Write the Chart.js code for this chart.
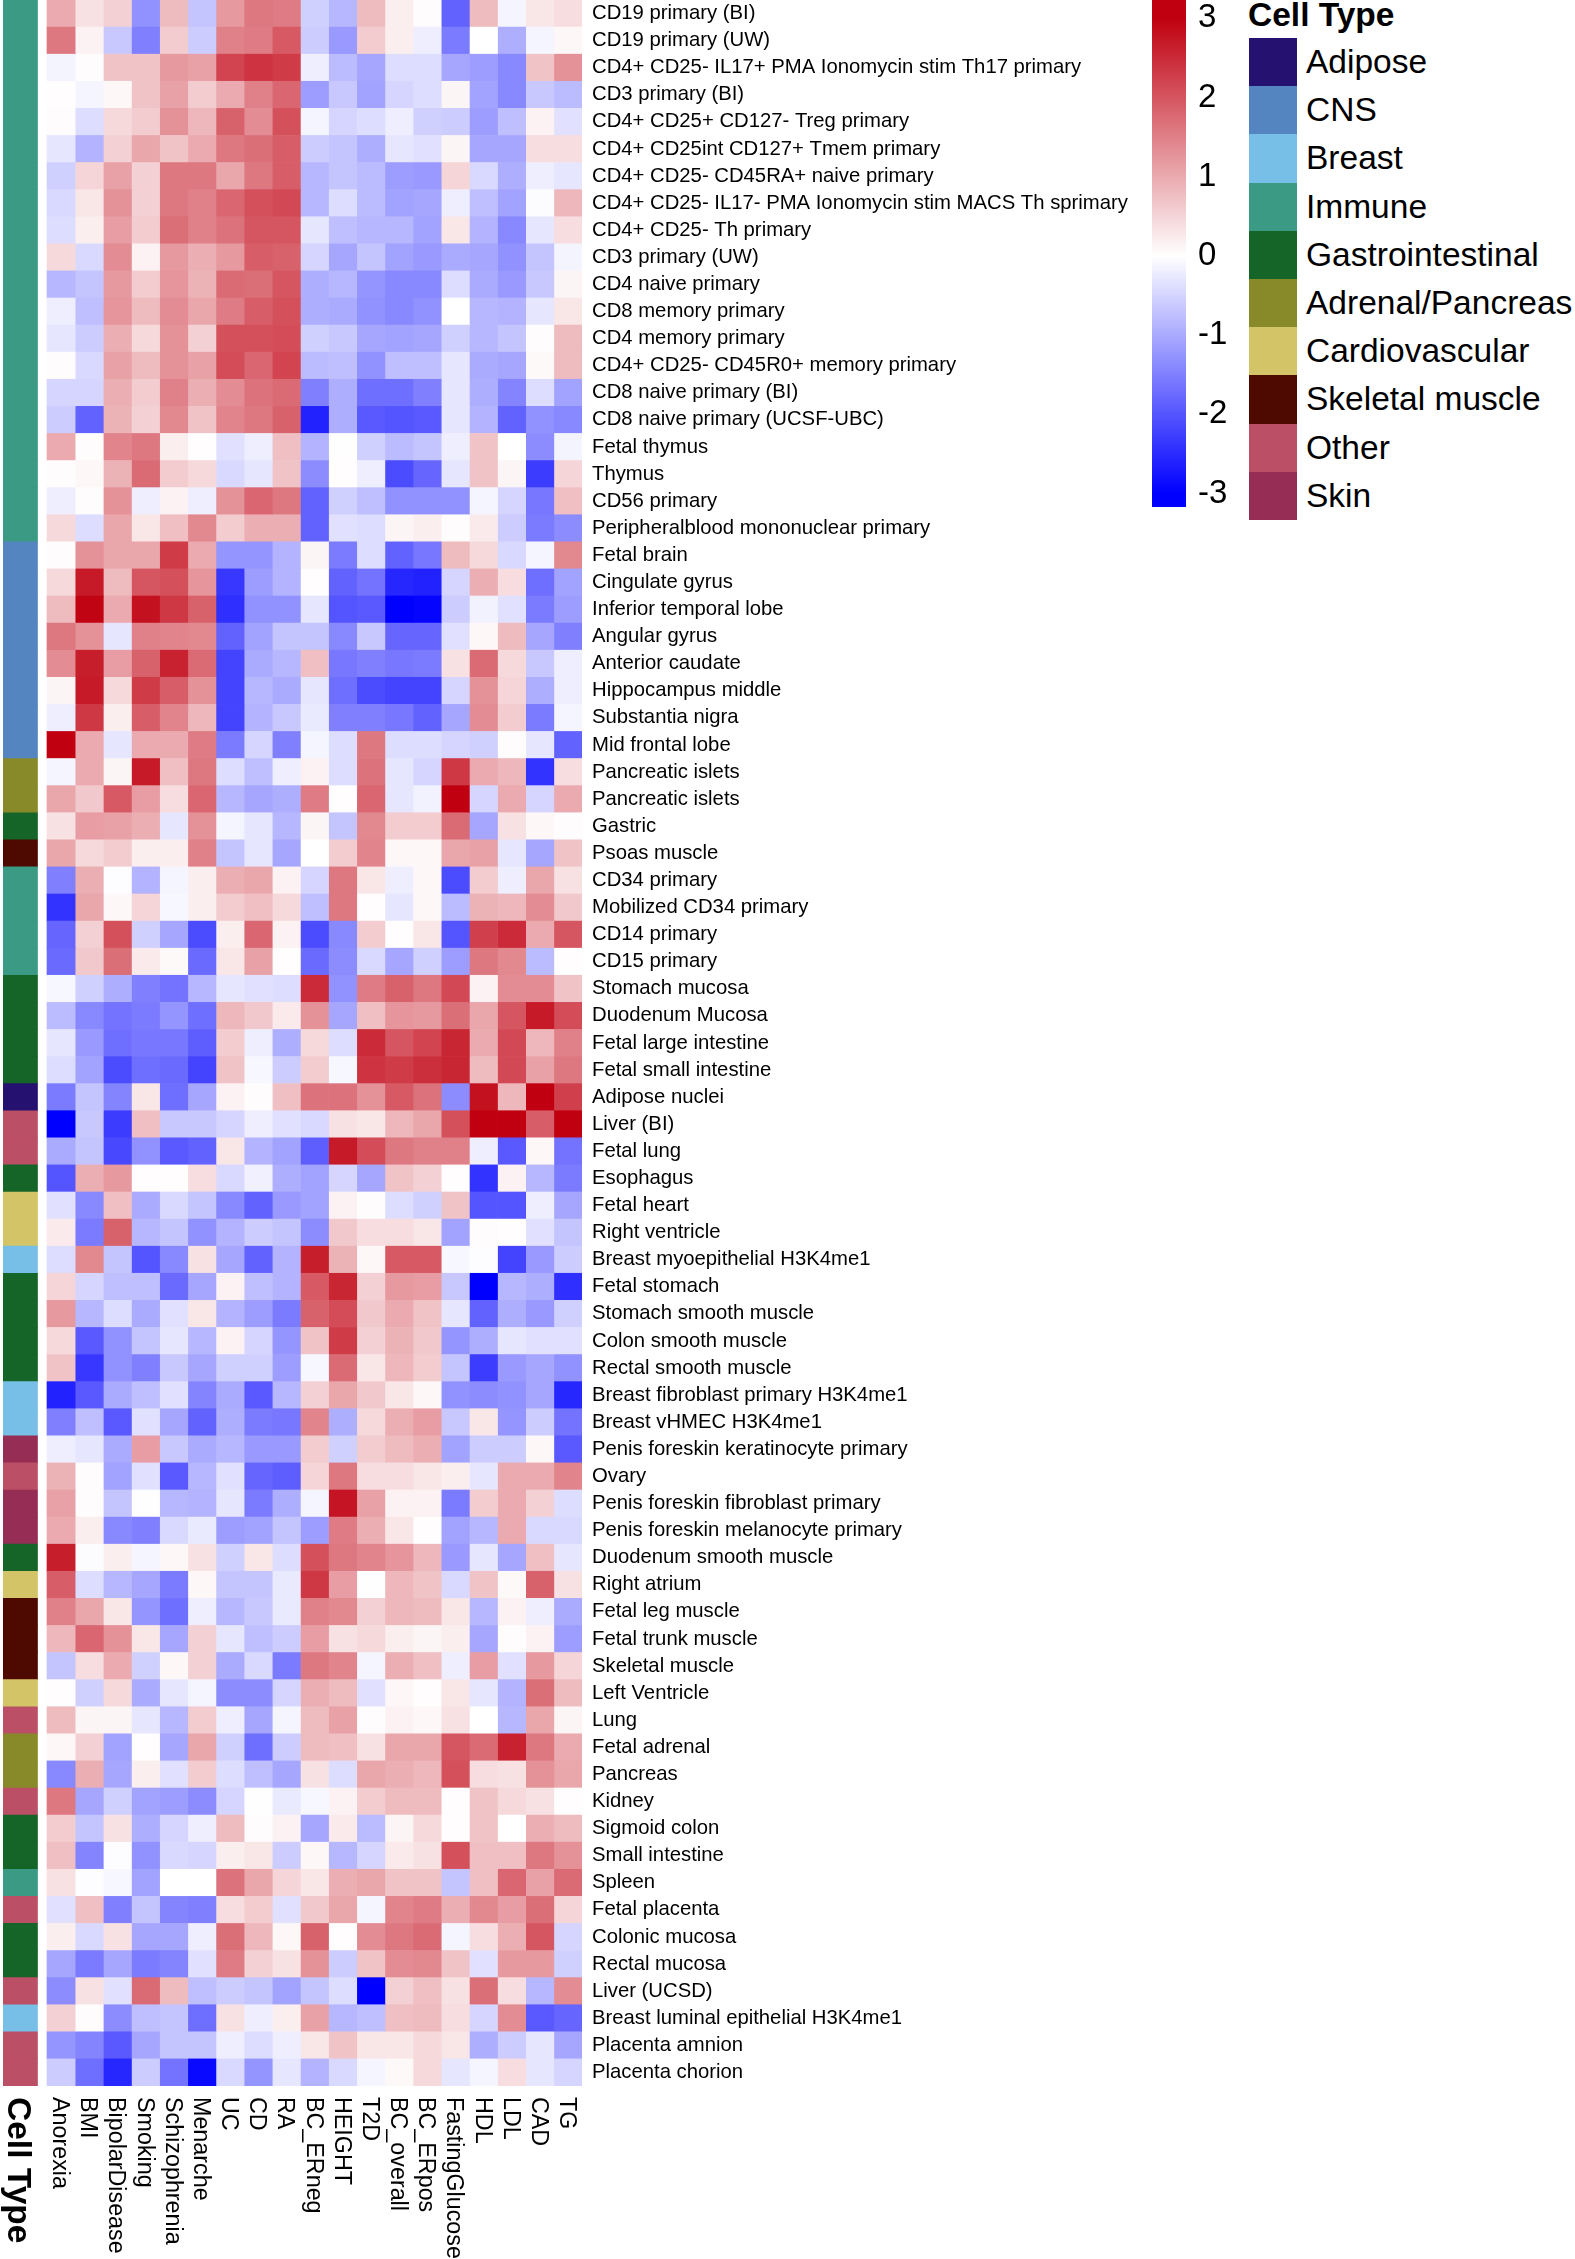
<!DOCTYPE html>
<html>
<head>
<meta charset="utf-8">
<title>Cell type heatmap</title>
<script src="https://cdn.jsdelivr.net/npm/chart.js@4"></script>
<style>
  body { margin: 0; background: #fff; font-family: "Liberation Sans", Arial, sans-serif; }
  #wrap { position: relative; width: 1575px; height: 2259px; overflow: hidden; }
  canvas { position: absolute; }
  .legendTitle { position: absolute; left: 1248px; top: -3px; font-size: 33.5px; font-weight: bold; color: #000; line-height: 36px; }
  .swatch { position: absolute; left: 1249px; width: 48px; }
  .swatchLabel { position: absolute; left: 1306px; font-size: 33.5px; color: #000; white-space: nowrap; }
</style>
</head>
<body>
<div id="wrap">
  <canvas id="heatmap" width="1130" height="2259" style="left:0;top:0"></canvas>
  <canvas id="colorbar" width="90" height="507" style="left:1152px;top:0"></canvas>
  <div id="legend"></div>
</div>
<script>
const colLabels = ['Anorexia','BMI','BipolarDisease','Smoking','Schizophrenia','Menarche','UC','CD','RA','BC_ERneg','HEIGHT','T2D','BC_overall','BC_ERpos','FastingGlucose','HDL','LDL','CAD','TG'];

const rowLabels = [
  'CD19 primary (BI)','CD19 primary (UW)','CD4+ CD25- IL17+ PMA Ionomycin stim Th17 primary','CD3 primary (BI)',
  'CD4+ CD25+ CD127- Treg primary','CD4+ CD25int CD127+ Tmem primary','CD4+ CD25- CD45RA+ naive primary',
  'CD4+ CD25- IL17- PMA Ionomycin stim MACS Th sprimary','CD4+ CD25- Th primary','CD3 primary (UW)','CD4 naive primary',
  'CD8 memory primary','CD4 memory primary','CD4+ CD25- CD45R0+ memory primary','CD8 naive primary (BI)',
  'CD8 naive primary (UCSF-UBC)','Fetal thymus','Thymus','CD56 primary','Peripheralblood mononuclear primary',
  'Fetal brain','Cingulate gyrus','Inferior temporal lobe','Angular gyrus','Anterior caudate','Hippocampus middle',
  'Substantia nigra','Mid frontal lobe','Pancreatic islets','Pancreatic islets','Gastric','Psoas muscle','CD34 primary',
  'Mobilized CD34 primary','CD14 primary','CD15 primary','Stomach mucosa','Duodenum Mucosa','Fetal large intestine',
  'Fetal small intestine','Adipose nuclei','Liver (BI)','Fetal lung','Esophagus','Fetal heart','Right ventricle',
  'Breast myoepithelial H3K4me1','Fetal stomach','Stomach smooth muscle','Colon smooth muscle','Rectal smooth muscle',
  'Breast fibroblast primary H3K4me1','Breast vHMEC H3K4me1','Penis foreskin keratinocyte primary','Ovary',
  'Penis foreskin fibroblast primary','Penis foreskin melanocyte primary','Duodenum smooth muscle','Right atrium',
  'Fetal leg muscle','Fetal trunk muscle','Skeletal muscle','Left Ventricle','Lung','Fetal adrenal','Pancreas','Kidney',
  'Sigmoid colon','Small intestine','Spleen','Fetal placenta','Colonic mucosa','Rectal mucosa','Liver (UCSD)',
  'Breast luminal epithelial H3K4me1','Placenta amnion','Placenta chorion'
];

const typeNames = ['Adipose','CNS','Breast','Immune','Gastrointestinal','Adrenal/Pancreas','Cardiovascular','Skeletal muscle','Other','Skin'];
const typeColors = ['#251170','#5585c0','#78bfe8','#3a9a84','#156428','#888a2a','#d4c468','#4f0a00','#bb4f65','#962d55'];

// index into typeNames for every row, top to bottom
const rowTypes = [
  3,3,3,3,3,3,3,3,3,3,3,3,3,3,3,3,3,3,3,3,
  1,1,1,1,1,1,1,1,
  5,5,4,7,3,3,3,3,4,4,4,4,0,8,8,4,6,6,2,4,4,4,4,2,2,9,8,9,9,4,6,7,7,7,6,8,5,5,8,4,4,3,8,4,4,8,2,8,8
];

// enrichment per row, columns in colLabels order
const values = [
  [1.0,.35,.55,-1.3,.8,-.7,1.2,1.6,1.55,-.55,-.85,.8,.2,.03,-1.85,.8,-.12,.3,.4],
  [1.6,.15,-.65,-1.5,.6,-.6,1.5,1.55,1.95,-.6,-1.2,.6,.2,-.2,-1.55,0,-.95,-.12,.1],
  [-.13,.03,.7,.7,1.2,1.1,2.2,2.4,2.3,-.2,-.8,-1.05,-.4,-.4,-1.05,-1.15,-1.4,.7,1.3],
  [.02,-.12,.1,.7,1.1,.6,1.0,1.5,1.8,-1.15,-.65,-1.1,-.5,-.4,.12,-1.1,-1.4,-.65,-.8],
  [.03,-.4,.45,.6,1.3,.85,1.85,1.35,2.05,-.12,-.5,-.4,-.2,-.55,-.6,-1.15,-.75,.15,-.35],
  [-.3,-.9,.55,1.05,.7,1.0,1.6,1.7,1.9,-.6,-.7,-.95,-.3,-.35,.12,-1.05,-1.05,.4,.4],
  [-.55,.5,1.1,.55,1.6,1.6,1.05,1.6,1.9,-.85,-.7,-.8,-1.15,-1.2,.5,-.45,-.95,-.2,-.3],
  [-.45,.3,1.3,.55,1.6,1.5,1.8,2.05,2.15,-.85,-.4,-.8,-1.1,-1.05,-.2,-.75,-1.1,-.03,.85],
  [-.4,.2,1.15,.6,1.7,1.5,1.65,2.0,2.0,-.3,-.75,-.85,-.85,-1.1,.3,-.9,-1.4,-.3,.4],
  [.45,-.45,1.35,.15,1.2,.95,1.2,1.9,1.85,-.5,-1.05,-.7,-1.1,-1.2,-1.0,-1.05,-1.3,-.7,-.13],
  [-.85,-.7,1.2,.6,1.25,.9,1.75,1.7,2.0,-.95,-.85,-1.25,-1.4,-1.4,-.4,-1.0,-1.2,-.65,.12],
  [-.2,-.75,1.25,.8,1.35,1.05,1.55,1.9,2.05,-.95,-1.0,-1.3,-1.4,-1.3,0,-.85,-.9,-.3,.3],
  [-.3,-.6,.95,.45,1.3,.55,2.05,2.05,2.1,-.55,-.65,-1.05,-1.1,-1.05,-.55,-.85,-.7,.03,.8],
  [.03,-.45,1.1,.8,1.3,1.1,2.1,1.8,2.2,-.8,-.75,-1.3,-.75,-.75,-.3,-1.0,-1.05,.07,.8],
  [-.5,-.5,.95,.6,1.5,.95,1.35,1.65,1.75,-1.5,-.95,-1.7,-1.7,-1.5,-.3,-.95,-1.45,-.4,-1.1],
  [-.6,-1.85,.9,.55,1.4,.7,1.45,1.6,1.85,-2.6,-.95,-1.95,-2.0,-1.95,-.3,-.9,-1.85,-1.3,-1.4],
  [1.0,.03,1.45,1.6,.2,.02,-.35,-.2,.75,-.9,.01,-.55,-.8,-.7,-.2,.7,0,-1.35,-.13],
  [.03,.1,.9,1.75,.6,.45,-.45,-.3,.7,-1.35,.02,-.2,-2.1,-1.8,-.3,.7,.12,-2.3,.5],
  [-.2,.03,1.3,-.2,.15,-.2,1.3,1.8,1.6,-1.85,-.55,-.75,-1.3,-1.3,-1.3,-.12,-.5,-1.6,.75],
  [.45,-.4,1.05,.3,.75,1.4,.6,.95,.95,-1.85,-.35,-.4,.12,.2,.03,.25,-.6,-1.55,-1.35],
  [.03,1.3,1.05,1.05,2.3,1.0,-1.25,-1.25,-.9,.12,-1.55,-.4,-1.85,-1.6,.8,.45,-.45,-.12,1.4],
  [.45,2.7,.8,2.0,2.05,1.25,-2.35,-1.15,-.9,.02,-1.85,-1.65,-2.55,-2.6,-.5,.95,.4,-1.7,-1.1],
  [.8,2.95,1.0,2.8,2.35,1.85,-2.45,-1.3,-1.3,-.3,-2.0,-1.95,-3.0,-2.95,-.6,-.15,-.35,-1.55,-1.15],
  [1.6,1.3,-.3,1.5,1.45,1.4,-1.85,-1.1,-.7,-.7,-1.4,-.65,-1.8,-1.8,-.35,.1,.8,-1.05,-1.5],
  [1.35,2.65,1.15,1.85,2.6,1.75,-2.2,-1.0,-.85,.75,-1.6,-1.5,-1.6,-1.55,.35,1.75,.45,-.65,-.2],
  [.12,2.7,.45,2.3,1.9,1.3,-2.2,-.85,-1.0,-.3,-1.7,-2.1,-2.2,-2.2,-.5,1.3,.5,-.95,-.2],
  [-.2,2.35,.2,1.9,1.45,.85,-2.2,-.9,-.65,-.25,-1.5,-1.5,-1.6,-1.85,-1.05,1.35,.6,-1.55,-.12],
  [3.0,1.0,-.3,1.0,1.0,1.55,-1.55,-.5,-1.5,-.12,-.4,1.6,-.4,-.4,-.5,-.55,.03,-.3,-1.85],
  [-.12,1.0,.12,2.7,.75,1.6,-.4,-.75,-.2,.15,-.4,1.65,-.3,-.5,2.35,1.0,.85,-2.4,.4],
  [1.05,.65,1.95,1.15,.4,1.8,-.85,-1.05,-.95,1.55,.02,1.8,-.3,-.15,3.0,-.5,1.0,-.5,1.0],
  [.35,1.15,1.1,.95,-.3,1.3,-.12,-.3,-.85,.12,-.7,1.4,.6,.6,1.75,-1.05,.35,.1,.03],
  [1.05,.45,.6,.2,.2,1.5,-.7,-.3,-1.05,0,.6,1.45,.1,.1,1.05,1.1,-.3,-1.05,.7],
  [-1.5,.95,-.02,-.9,-.12,.2,.95,1.05,.15,-.5,1.6,.3,-.2,.1,-2.1,.6,-.2,1.05,.35],
  [-2.4,1.05,.1,.5,-.1,.2,.6,.75,.45,-.75,1.6,.02,-.3,.1,-.8,.9,.85,1.35,.65],
  [-1.8,.55,2.05,-.55,-1.05,-2.1,.2,1.8,.15,-2.1,-1.4,.6,.02,.3,-2.0,2.25,2.5,1.0,2.0],
  [-1.75,.65,1.7,.25,.07,-1.75,.3,1.1,.02,-1.75,-1.35,-.45,-1.05,-.55,-1.15,1.6,1.4,-.8,.02],
  [-.1,-.55,-.95,-1.5,-1.65,-.85,-.3,-.35,-.4,2.5,-1.3,1.55,1.85,1.6,2.15,.15,1.35,1.35,.7],
  [-.8,-1.4,-1.65,-1.55,-1.25,-1.7,.85,.65,.25,1.3,-1.05,.75,1.25,1.2,1.7,1.05,2.0,2.7,2.1],
  [-.3,-1.2,-1.7,-1.6,-1.6,-1.9,.6,-.2,-.95,.45,-.4,2.5,2.0,2.2,2.55,1.0,2.15,.85,1.5],
  [-.4,-1.1,-2.1,-1.7,-1.75,-2.2,.7,-.1,-.6,.6,-.1,2.4,2.3,2.45,2.55,.8,2.15,1.1,1.6],
  [-1.55,-.7,-1.45,.3,-1.7,-1.05,.15,.03,.75,1.65,1.65,1.3,1.95,1.65,-1.35,2.8,.85,3.0,2.25],
  [-3.0,-.65,-2.3,.75,-.65,-.65,-.5,-.2,-.35,-.45,.35,.3,.85,1.05,2.05,3,3,1.9,3],
  [-1.0,-.7,-2.15,-1.3,-1.95,-1.85,.3,-.9,-1.1,-1.9,2.7,2.1,1.6,1.5,1.5,-.2,-1.95,.1,-1.65],
  [-2.0,.95,1.2,.02,.02,.4,-.45,-.18,-.95,-1.1,-.5,-1.05,.7,.55,.02,-2.4,.15,-.85,-1.55],
  [-.35,-1.4,.75,-1.0,-.45,-.7,-1.4,-1.85,-1.2,-1.1,.15,.03,-.4,-.55,.7,-2.0,-2.0,-.2,-1.05],
  [.25,-1.55,1.85,-.85,-.7,-1.3,-.9,-.6,-.7,-1.35,.65,.4,.4,.3,-1.1,.03,.02,-.35,-.7],
  [-.4,1.4,-.7,-2.0,-1.4,.35,-1.05,-1.85,-.9,2.65,.9,.1,1.95,1.95,-.1,-.02,-2.2,-1.2,-.6],
  [.5,-.5,-.75,-.75,-1.75,-1.05,.15,-.75,-.9,1.95,2.55,.55,1.2,1.15,-.65,-3.0,-.85,-.95,-2.45],
  [1.2,-.85,-.4,-1.0,-.35,.3,-.9,-1.15,-1.55,1.85,2.1,.65,1.0,.7,-.3,-1.85,-.95,-1.2,-.55],
  [.45,-1.95,-1.3,-.7,-.3,-.85,.15,-.5,-1.25,.7,2.3,.55,.9,.65,-1.25,-.95,-.3,-.35,-.35],
  [.7,-2.35,-1.3,-1.5,-.65,-1.05,-.55,-.55,-1.15,-.1,1.75,.3,.85,.6,-.7,-2.3,-1.2,-1.05,-1.3],
  [-2.6,-1.95,-1.0,-.75,-.35,-1.45,-1.0,-1.95,-.85,.55,1.05,.65,.3,.1,-1.3,-1.35,-1.3,-1.05,-2.55],
  [-1.5,-.75,-1.95,-.35,-1.05,-1.85,-.95,-1.55,-1.6,1.45,-.95,.45,.95,1.15,-.65,.3,-1.25,-.6,-1.65],
  [-.2,-.3,-1.0,1.15,-.65,-1.0,-.85,-1.2,-1.2,.6,-.55,.6,.8,.95,-1.1,-.6,-.6,.1,-1.95],
  [.9,.03,-1.1,-.35,-1.95,-.85,-.35,-1.8,-1.9,.5,1.6,.4,.4,.3,.2,-.3,1.0,1.0,1.45],
  [1.1,.03,-.7,.01,-.85,-.9,-.3,-1.55,-.95,-.12,2.75,1.1,.15,.15,-1.55,.6,1.0,.55,-.4],
  [1.0,.2,-1.4,-1.5,-.45,-.25,-1.15,-1.1,-.7,-1.15,1.55,.95,.3,.02,-1.1,-.85,1.0,-.45,-.45],
  [2.65,-.03,.2,-.12,.1,.35,-.55,.3,-.4,2.05,1.6,1.45,1.25,.85,-1.2,-.3,-1.05,.75,-.3],
  [1.9,-.4,-.85,-1.05,-1.55,.1,-.7,-.7,-.25,2.35,1.15,.01,.85,.7,-.45,.7,.07,1.85,.35],
  [1.5,1.05,.3,-1.25,-1.7,-.2,-.85,-.65,-.25,1.5,1.4,.55,.85,.8,.3,-.85,.15,-.2,-1.0],
  [.85,1.8,1.3,.3,-1.05,.55,-.3,-.75,-.6,1.15,.35,.45,.2,.12,.2,-1.05,.03,.15,-1.15],
  [-.7,.4,1.0,-.55,.1,.55,-1.0,-.45,-1.55,1.6,1.45,-.12,.95,.75,-.2,1.15,-.35,1.2,.5],
  [.02,-.55,.45,-1.0,-.3,-.12,-1.35,-1.35,-.5,.95,.8,-.35,.1,.02,.3,-.3,-.9,1.7,.8],
  [.8,.12,.12,-.3,-.85,.6,-.2,-1.05,-.12,.8,1.1,.03,.15,.1,.35,0,-.85,1.05,.12],
  [.1,.55,-1.1,.02,-1.05,1.05,-.55,-1.7,-.6,.8,.75,.35,1.05,1.05,2.0,1.75,2.6,1.6,1.0],
  [-1.4,.95,-1.05,.2,-.35,.6,-.4,-.75,-1.05,.35,-.4,1.05,.95,.85,2.05,.4,.35,1.3,1.05],
  [1.6,-1.05,-.55,-1.1,-1.15,-1.35,-.5,.01,-.25,-.1,.15,.6,.8,.8,.02,.7,.45,.35,.02],
  [.6,-.7,.35,-.95,-.5,-.2,.8,.03,.15,-1.05,.25,-.8,.12,.45,.02,.7,0,.95,.8],
  [.75,-1.45,-.02,-1.3,-.45,-.5,.2,.3,-.6,.1,-.85,-.5,.25,.35,2.05,.75,.75,1.6,1.3],
  [.35,-.02,-.1,-1.1,0,0,1.65,1.05,.5,.3,.95,1.05,.7,.7,-.7,.75,1.8,1.1,1.75],
  [-.35,.75,-1.5,-.7,-1.45,-1.5,.4,.6,-.35,.65,1.05,-.12,1.45,1.55,.95,1.4,1.15,1.7,.5],
  [.2,-.45,.35,-1.05,-1.05,-.2,1.7,.85,.1,1.85,.02,1.35,1.6,1.75,-.12,.4,.95,2.0,-.5],
  [-1.05,-1.55,-1.05,-1.55,-1.45,-.35,1.55,.55,.35,1.3,-.6,.7,1.35,1.4,.7,-.35,1.2,1.2,-.55],
  [-1.35,.35,-.35,1.75,.8,-.75,-.6,-.7,-1.1,-.7,-.4,-3.0,.55,.75,.35,1.7,.4,-.85,1.35],
  [.55,.03,-1.35,-.75,-.7,-1.7,.35,-.2,.2,1.1,-.85,-.75,.75,.8,.4,-.5,1.35,-1.95,-1.8],
  [-1.25,-1.45,-1.95,-1.05,-.7,-.7,-.2,-.4,-.2,.3,.7,.3,.3,.45,.3,-.95,-.6,-.3,-1.05],
  [-.6,-1.7,-2.55,-.6,-1.65,-2.9,-.45,-1.25,-.3,-.9,-.45,-.12,.07,.45,-.3,-.12,.4,-.3,-.5]
];

const colorbarTicks = [-3,-2,-1,0,1,2,3];

const FONT = '"Liberation Sans", Arial, sans-serif';
const STRIP = 1.225;  // width of the cell type strip, in heatmap columns
const GAP = 0.337;

// blue - white - red ramp
function colorFor(v) {
  const t = Math.min(Math.abs(v) / 3, 1);
  const end = v >= 0 ? [192, 0, 16] : [0, 0, 255];
  const c = end.map(e => Math.round(255 + (e - 255) * t));
  return `rgb(${c[0]},${c[1]},${c[2]})`;
}

// axis keeps its fixed width and must not pad the plot above/below its labels
function fitAxis(width) {
  return s => {
    s.width = width;
    s.paddingTop = 0;
    s.paddingBottom = 0;
  };
}

// stacked horizontal bars: strip, gap, then one dataset per trait column
const datasets = [
  { label: 'Cell Type', data: rowLabels.map(() => STRIP), backgroundColor: rowTypes.map(t => typeColors[t]) },
  { label: 'gap', data: rowLabels.map(() => GAP), backgroundColor: 'rgba(0,0,0,0)' }
];
colLabels.forEach((name, c) => {
  datasets.push({
    label: name,
    data: rowLabels.map(() => 1),
    backgroundColor: values.map(row => colorFor(row[c]))
  });
});

// column titles read downwards, which the tick options can't anchor properly
const columnTitles = {
  id: 'columnTitles',
  afterDraw(chart) {
    const ctx = chart.ctx;
    const x = chart.scales.x;
    const top = chart.chartArea.bottom + 11;
    ctx.save();
    ctx.fillStyle = '#000';
    ctx.textAlign = 'left';
    ctx.textBaseline = 'middle';
    const put = (text, px) => {
      ctx.save();
      ctx.translate(px, top);
      ctx.rotate(Math.PI / 2);
      ctx.fillText(text, 0, 0);
      ctx.restore();
    };
    ctx.font = '23.3px ' + FONT;
    colLabels.forEach((name, c) => put(name, x.getPixelForValue(STRIP + GAP + c + 0.5) - 1.5));
    ctx.font = 'bold 33.5px ' + FONT;
    put('Cell Type', x.getPixelForValue(STRIP / 2) - 3);
    ctx.restore();
  }
};

new Chart(document.getElementById('heatmap'), {
  type: 'bar',
  data: { labels: rowLabels, datasets: datasets },
  plugins: [columnTitles],
  options: {
    indexAxis: 'y',
    responsive: false,
    animation: false,
    events: [],
    layout: { padding: { left: 3, top: 0, right: 0, bottom: 173 } },
    datasets: { bar: { categoryPercentage: 1, barPercentage: 1, borderWidth: 0 } },
    plugins: { legend: { display: false }, tooltip: { enabled: false } },
    scales: {
      x: { display: false, stacked: true, min: 0, max: STRIP + GAP + colLabels.length },
      y: {
        position: 'right',
        stacked: true,
        grid: { display: false, drawTicks: false },
        border: { display: false },
        afterFit: fitAxis(548),
        ticks: { autoSkip: false, padding: 10, color: '#000', font: { family: FONT, size: 20.3 } }
      }
    }
  }
});

// colour key: one floating bar over the whole scale, filled with the same ramp
new Chart(document.getElementById('colorbar'), {
  type: 'bar',
  data: {
    labels: [''],
    datasets: [{
      data: [[-3.17, 3.23]],
      backgroundColor(c) {
        const y = c.chart.scales.y;
        if (!y || !c.chart.chartArea) return '#fff';
        const g = c.chart.ctx.createLinearGradient(0, y.getPixelForValue(-3), 0, y.getPixelForValue(3));
        g.addColorStop(0, colorFor(-3));
        g.addColorStop(0.5, colorFor(0));
        g.addColorStop(1, colorFor(3));
        return g;
      }
    }]
  },
  options: {
    responsive: false,
    animation: false,
    events: [],
    layout: { padding: 0 },
    datasets: { bar: { categoryPercentage: 1, barPercentage: 1, borderWidth: 0 } },
    plugins: { legend: { display: false }, tooltip: { enabled: false } },
    scales: {
      x: { display: false },
      y: {
        position: 'right',
        min: -3.17,
        max: 3.23,
        grid: { display: false, drawTicks: false },
        border: { display: false },
        afterFit: fitAxis(56),
        afterBuildTicks: s => { s.ticks = colorbarTicks.map(v => ({ value: v })); },
        ticks: { padding: 12, color: '#000', font: { family: FONT, size: 33 } }
      }
    }
  }
});

// cell type legend
const legend = document.getElementById('legend');
legend.innerHTML = '<div class="legendTitle">Cell Type</div>';
typeNames.forEach((name, i) => {
  const top = 38 + i * 48.2;
  legend.innerHTML += `<div class="swatch" style="top:${top}px;height:48.2px;background:${typeColors[i]}"></div>` +
    `<div class="swatchLabel" style="top:${top}px;line-height:48.2px">${name}</div>`;
});
</script>
</body>
</html>
